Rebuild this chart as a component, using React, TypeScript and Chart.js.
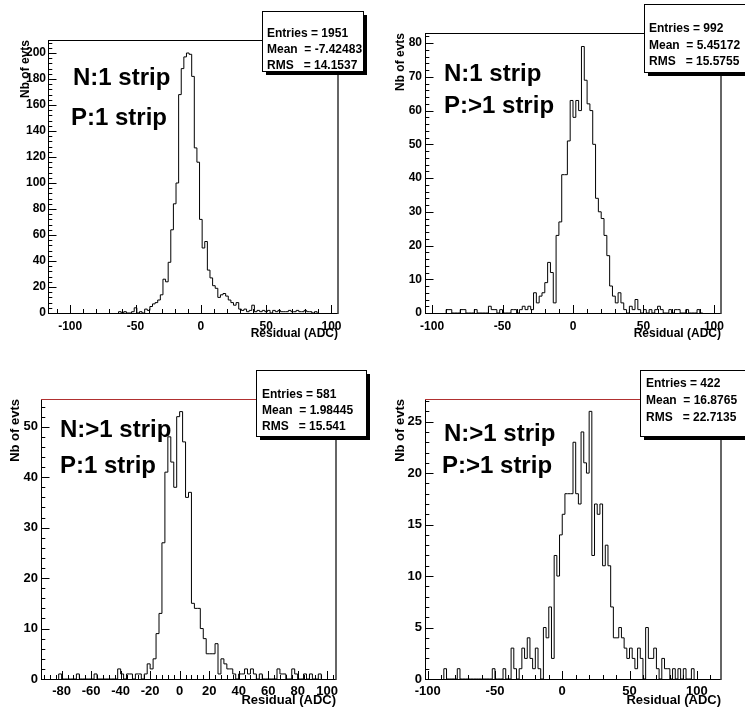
import React, { useEffect, useRef } from "react";
import { Chart, registerables } from "chart.js";

Chart.register(...registerables);

const FONT = "'Liberation Sans', Arial, Helvetica, sans-serif";

// ---------------- data ----------------
const binWidth = 2;

// N:1 strip / P:1 strip
const p1Start = -63;
const p1Counts = [1,0,1,0,0,1,4,0,1,0, 3,2,5,7,8,10,14,26,24,39, 64,84,100,168,188,197,200,199,182,127,
  116,72,50,55,33,27,21,19,12,14, 15,13,10,8,6,8,3,2,3,1, 2,6,1,2,1,2,1,2,0,2, 1,2,1,1,1,2,1,1,2,1, 1,2,1,1,0,1];

// N:1 strip / P:>1 strip
const p2Start = -90;
const p2Counts = [1,1,0,0,0,1,1,0,0,0, 1,0,0,0,0,2,1,1,0,1, 0,0,0,1,1,0,1,2,1,2, 1,6,3,5,6,9,15,12,3,23,
  27,41,41,51,63,58,63,60,79,69, 62,60,50,34,30,28,23,17,8,5, 3,6,3,1,0,2,1,4,1,0, 1,0,1,0,1,2,1,0,0,1,
  0,1,1,0,0,1,0,0,0,1, 0];

// N:>1 strip / P:1 strip
const p3Start = -82;
const p3Counts = [1,0,0,0,0,0,1,0,0,0, 0,0,1,0,0,0,0,0,0,0, 2,1,0,1,1,0,1,1,0,1, 3,2,4,9,13,27,41,48,43,38,
  52,53,47,36,37,15,14,14,10,8, 5,5,5,7,1,4,3,2,2,1, 0,1,1,2,1,2,1,0,1,0, 0,0,0,0,2,1,1,0,0,2,
  1,0,0,1,0,1,0,0,1];

// N:>1 strip / P:>1 strip
const p4Start = -88;
const p4Counts = [1,0,0,0,0,1,0,0,0,0, 0,0,0,0,0,0,0,0,1,0, 0,0,1,0,0,3,1,0,1,3, 2,4,2,1,3,1,0,5,4,7,
  2,12,10,14,16,18,18,18,23,18, 17,24,21,20,26,12,17,16,17,11, 13,11,7,4,4,5,4,3,2,3, 2,1,3,2,0,5,2,2,3,1,
  0,2,1,1,0,1,0,1,0,1, 0,0,1];

const xTicksWide = [-100, -50, 0, 50, 100];
const xTicksP3 = [-80, -60, -40, -20, 0, 20, 40, 60, 80, 100];
const yTicksP1 = [0, 20, 40, 60, 80, 100, 120, 140, 160, 180, 200];
const yTicksP2 = [0, 10, 20, 30, 40, 50, 60, 70, 80];
const yTicksP3 = [0, 10, 20, 30, 40, 50];
const yTicksP4 = [0, 5, 10, 15, 20, 25];

const statsP1 = ["Entries = 1951", "Mean  = -7.42483", "RMS   = 14.1537"];
const statsP2 = ["Entries = 992", "Mean  = 5.45172", "RMS   = 15.5755"];
const statsP3 = ["Entries = 581", "Mean  = 1.98445", "RMS   = 15.541"];
const statsP4 = ["Entries = 422", "Mean  = 16.8765", "RMS   = 22.7135"];

const tagsP1 = ["N:1 strip", "P:1 strip"];
const tagsP2 = ["N:1 strip", "P:>1 strip"];
const tagsP3 = ["N:>1 strip", "P:1 strip"];
const tagsP4 = ["N:>1 strip", "P:>1 strip"];

const xTitle = "Residual (ADC)";
const yTitle = "Nb of evts";

// ---------------- layout ----------------
type Panel = {
  pos: [number, number, number, number];
  start: number;
  counts: number[];
  xMin: number; xMax: number; yMax: number;
  xTicks: number[]; yTicks: number[];
  xMinor: number; xMajor: number; yMinor: number; yMajor: number;
  frame: { l: number; t: number; r: number; b: number };
  fs: number;
  yTitlePad: number; xTitlePad: number; xLabelPad: number; yLabelPad: number;
  topColor: string;
  tags: string[]; tagPos: [number, number][];
  stats: string[]; box: { l: number; t: number; r: number; b: number };
  statsX: number; statsY: number[];
};

const panels: Panel[] = [
  {
    pos: [0, 0, 372, 356], start: p1Start, counts: p1Counts,
    xMin: -117, xMax: 105, yMax: 210, xTicks: xTicksWide, yTicks: yTicksP1,
    xMinor: 10, xMajor: 50, yMinor: 4, yMajor: 20,
    frame: { l: 48, t: 40, r: 338, b: 313 }, fs: 12,
    yTitlePad: 18.5, xTitlePad: 14.8, xLabelPad: 6.5, yLabelPad: 2,
    topColor: "#000",
    tags: tagsP1, tagPos: [[73, 78], [71, 118]],
    stats: statsP1, box: { l: 262, t: 11, r: 363, b: 71 }, statsX: 267, statsY: [33.3, 49.3, 65.5],
  },
  {
    pos: [372, 0, 373, 356], start: p2Start, counts: p2Counts,
    xMin: -105, xMax: 105, yMax: 83, xTicks: xTicksWide, yTicks: yTicksP2,
    xMinor: 10, xMajor: 50, yMinor: 2, yMajor: 10,
    frame: { l: 53, t: 33, r: 349, b: 313 }, fs: 12,
    yTitlePad: 21.5, xTitlePad: 14.8, xLabelPad: 6.5, yLabelPad: 3,
    topColor: "#000",
    tags: tagsP2, tagPos: [[72, 74], [72, 106]],
    stats: statsP2, box: { l: 272, t: 4, r: 376, b: 72 }, statsX: 277, statsY: [28.3, 45.3, 62],
  },
  {
    pos: [0, 356, 372, 356], start: p3Start, counts: p3Counts,
    xMin: -94, xMax: 106, yMax: 55.5, xTicks: xTicksP3, yTicks: yTicksP3,
    xMinor: 4, xMajor: 20, yMinor: 2, yMajor: 10,
    frame: { l: 41, t: 43, r: 336, b: 323 }, fs: 13,
    yTitlePad: 7.7, xTitlePad: 3.5, xLabelPad: 4.2, yLabelPad: 3,
    topColor: "#b03030",
    tags: tagsP3, tagPos: [[60, 74], [60, 110]],
    stats: statsP3, box: { l: 256, t: 14, r: 366, b: 80 }, statsX: 262, statsY: [38.3, 55, 71],
  },
  {
    pos: [372, 356, 373, 356], start: p4Start, counts: p4Counts,
    xMin: -102, xMax: 118, yMax: 27.2, xTicks: xTicksWide, yTicks: yTicksP4,
    xMinor: 10, xMajor: 50, yMinor: 1, yMajor: 5,
    frame: { l: 53, t: 43, r: 349, b: 323 }, fs: 13,
    yTitlePad: 21, xTitlePad: 3.5, xLabelPad: 4.2, yLabelPad: 3,
    topColor: "#b03030",
    tags: tagsP4, tagPos: [[72, 78], [70, 110]],
    stats: statsP4, box: { l: 268, t: 14, r: 376, b: 80 }, statsX: 274, statsY: [27.5, 45, 61.5],
  },
];

function histPoints(start: number, counts: number[]) {
  const pts: { x: number; y: number }[] = [{ x: start, y: 0 }];
  counts.forEach((c, i) => pts.push({ x: start + i * binWidth, y: c }));
  pts.push({ x: start + counts.length * binWidth, y: 0 });
  return pts;
}

function makeDeco(p: Panel) {
  return {
    id: "rootDeco",
    afterDraw(chart: any) {
      const ctx: CanvasRenderingContext2D = chart.ctx;
      const { left, right, top, bottom } = chart.chartArea;
      const xs = chart.scales.x;
      const ys = chart.scales.y;
      ctx.save();
      ctx.lineWidth = 1;
      ctx.strokeStyle = "#000";
      // x ticks (inside)
      ctx.beginPath();
      const i0 = Math.ceil(p.xMin / p.xMinor);
      const i1 = Math.floor(p.xMax / p.xMinor);
      for (let i = i0; i <= i1; i++) {
        const v = i * p.xMinor;
        const px = Math.round(xs.getPixelForValue(v)) + 0.5;
        const r = v / p.xMajor;
        const major = Math.abs(r - Math.round(r)) < 1e-6;
        ctx.moveTo(px, bottom);
        ctx.lineTo(px, bottom - (major ? 8 : 4));
      }
      const j1 = Math.floor(p.yMax / p.yMinor);
      for (let j = 0; j <= j1; j++) {
        const v = j * p.yMinor;
        const py = Math.round(ys.getPixelForValue(v)) + 0.5;
        const r = v / p.yMajor;
        const major = Math.abs(r - Math.round(r)) < 1e-6;
        ctx.moveTo(left, py);
        ctx.lineTo(left + (major ? 8.5 : 4.3), py);
      }
      ctx.stroke();
      // frame
      ctx.beginPath();
      ctx.moveTo(left + 0.5, top);
      ctx.lineTo(left + 0.5, bottom + 0.5);
      ctx.lineTo(right, bottom + 0.5);
      ctx.stroke();
      ctx.beginPath();
      ctx.strokeStyle = "#333";
      ctx.lineWidth = 1.5;
      ctx.moveTo(right, top);
      ctx.lineTo(right, bottom + 1);
      ctx.stroke();
      ctx.beginPath();
      ctx.strokeStyle = p.topColor;
      ctx.lineWidth = 1;
      ctx.moveTo(left, top + 0.5);
      ctx.lineTo(right, top + 0.5);
      ctx.stroke();
      // big tags
      ctx.fillStyle = "#000";
      ctx.font = `bold 24px ${FONT}`;
      ctx.textAlign = "left";
      ctx.textBaseline = "middle";
      p.tags.forEach((t, i) => ctx.fillText(t, p.tagPos[i][0], p.tagPos[i][1]));
      // stats box
      const b = p.box;
      const w = b.r - b.l;
      const h = b.b - b.t;
      ctx.fillStyle = "#000";
      ctx.fillRect(b.l + 4, b.t + 4, w, h);
      ctx.fillStyle = "#fff";
      ctx.fillRect(b.l, b.t, w, h);
      ctx.strokeStyle = "#000";
      ctx.lineWidth = 1;
      ctx.strokeRect(b.l + 0.5, b.t + 0.5, w, h);
      ctx.fillStyle = "#000";
      ctx.font = `bold 12px ${FONT}`;
      p.stats.forEach((s, i) => ctx.fillText(s, p.statsX, p.statsY[i]));
      ctx.restore();
    },
  };
}

function buildChart(canvas: HTMLCanvasElement, p: Panel) {
  const [, , W, H] = p.pos;
  const f = p.frame;
  const font = { family: FONT, size: p.fs, weight: "bold" as const };
  return new Chart(canvas, {
    type: "line",
    data: {
      datasets: [
        {
          data: histPoints(p.start, p.counts),
          stepped: "before",
          borderColor: "#000",
          borderWidth: 1,
          pointRadius: 0,
          fill: false,
          tension: 0,
        },
      ],
    },
    options: {
      animation: false,
      responsive: false,
      events: [],
      layout: { padding: { left: 0, top: f.t, right: W - f.r, bottom: 0 } },
      plugins: { legend: { display: false }, tooltip: { enabled: false }, title: { display: false } },
      scales: {
        x: {
          type: "linear",
          position: "bottom",
          min: p.xMin,
          max: p.xMax,
          grid: { display: false, drawTicks: false },
          border: { display: false },
          afterBuildTicks: (s: any) => {
            s.ticks = p.xTicks.map((v) => ({ value: v }));
          },
          afterFit: (s: any) => {
            s.height = H - f.b;
          },
          ticks: {
            autoSkip: false,
            maxRotation: 0,
            minRotation: 0,
            padding: p.xLabelPad,
            color: "#000",
            font,
            callback: (v: any) => String(v),
          },
          title: {
            display: true,
            text: xTitle,
            align: "end",
            color: "#000",
            font,
            padding: { top: 0, bottom: p.xTitlePad },
          },
        },
        y: {
          type: "linear",
          position: "left",
          min: 0,
          max: p.yMax,
          grid: { display: false, drawTicks: false },
          border: { display: false },
          afterBuildTicks: (s: any) => {
            s.ticks = p.yTicks.map((v) => ({ value: v }));
          },
          afterFit: (s: any) => {
            s.width = f.l;
          },
          ticks: {
            autoSkip: false,
            padding: p.yLabelPad,
            color: "#000",
            font,
            callback: (v: any) => String(v),
          },
          title: {
            display: true,
            text: yTitle,
            align: "end",
            color: "#000",
            font,
            padding: { top: p.yTitlePad, bottom: 0 },
          },
        },
      },
    },
    plugins: [makeDeco(p)],
  } as any);
}

export default function App() {
  const refs = useRef<(HTMLCanvasElement | null)[]>([]);
  useEffect(() => {
    const charts = panels.map((p, i) => buildChart(refs.current[i] as HTMLCanvasElement, p));
    return () => charts.forEach((c) => c.destroy());
  }, []);
  return (
    <div style={{ position: "absolute", left: 0, top: 0, width: 745, height: 712, background: "#fff", overflow: "hidden" }}>
      {panels.map((p, i) => (
        <canvas
          key={i}
          ref={(el) => {
            refs.current[i] = el;
          }}
          width={p.pos[2]}
          height={p.pos[3]}
          style={{ position: "absolute", left: p.pos[0], top: p.pos[1], width: p.pos[2], height: p.pos[3] }}
        />
      ))}
    </div>
  );
}
